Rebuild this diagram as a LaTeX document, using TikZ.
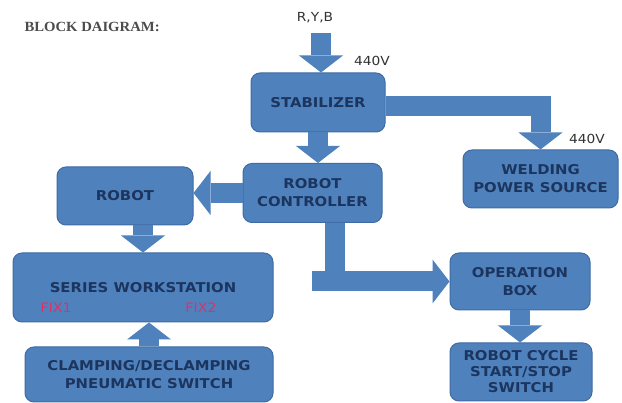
\documentclass[tikz,border=0pt]{standalone}
\usepackage{fontspec}
\setmainfont{Liberation Serif}
\setsansfont{DejaVu Sans}[FakeStretch=1.1]
\newfontfamily\titlefont{Liberation Serif}[FakeStretch=1.05]
\usetikzlibrary{arrows.meta}

\definecolor{boxblue}{HTML}{4F81BD}
\definecolor{boxedge}{HTML}{3F6CA4}
\definecolor{labelnavy}{HTML}{1C355E}
\definecolor{fixred}{HTML}{D9336B}

\tikzset{
  block/.style={draw=boxedge,line width=1pt,fill=boxblue,rounded corners=9pt,inner sep=0pt,
    align=center,text=labelnavy,font=\sffamily\bfseries\fontsize{13.5}{18}\selectfont},
  flow/.style={boxblue,line width=20pt,-{Triangle[width=44pt,length=17pt,line width=0pt]}},
  volt/.style={text=black!80,font=\sffamily\fontsize{12.5}{14}\selectfont},
  fix/.style={text=fixred,font=\sffamily\fontsize{13}{14}\selectfont}
}

\begin{document}
\begin{tikzpicture}[x=1pt,y=-1pt]
\fill[white] (0,0) rectangle (622,403);
\useasboundingbox (0,0) rectangle (622,403);

\node[anchor=west,text=black!70,font=\titlefont\bfseries\fontsize{14}{16}\selectfont] (title) at (21,27) {BLOCK DAIGRAM:};

\node[block,minimum width=134pt,minimum height=59pt] (stab) at (318,102.5) {STABILIZER};
\node[block,minimum width=139pt,minimum height=59pt] (ctrl) at (312.5,193) {ROBOT\\CONTROLLER};
\node[block,minimum width=136pt,minimum height=58pt] (robot) at (125,196) {ROBOT};
\node[block,minimum width=155pt,minimum height=58pt] (weld) at (540.5,179) {WELDING\\POWER SOURCE};
\node[block,minimum width=260pt,minimum height=69pt] (series) at (143,287.5) {SERIES WORKSTATION};
\node[block,minimum width=248pt,minimum height=55pt] (clamp) at (149,374.5) {CLAMPING/DECLAMPING\\PNEUMATIC SWITCH};
\node[block,minimum width=140pt,minimum height=57pt] (opbox) at (520,281.5) {OPERATION\\BOX};
\node[block,minimum width=142pt,minimum height=58pt,font=\sffamily\bfseries\fontsize{13.5}{16}\selectfont] (cycle) at (521,372) {ROBOT CYCLE\\START/STOP\\SWITCH};

\node[fix] (fixa) at (56,308) {FIX1};
\node[fix] (fixb) at (201,308) {FIX2};

\node[volt] (ryb) at (315,18) {R,Y,B};
\node[volt] (vin) at (372,61) {440V};
\node[volt] (vweld) at (587,139) {440V};
\coordinate (feed) at (321,33);

\draw[flow] (feed) -- (feed |- stab.north);
\draw[flow] (stab.south) -- (stab.south |- ctrl.north);
\draw[flow] ([yshift=-4pt]stab.east) -| (weld.north);
\draw[flow] (ctrl.west) -- (ctrl.west -| robot.east);
\draw[flow] (robot.south -| series.north) -- (series.north);
\draw[flow] (clamp.north) -- (clamp.north |- series.south);
\draw[flow] ([xshift=22pt]ctrl.south) |- (opbox.west);
\draw[boxblue,line width=20pt] ([xshift=22pt]ctrl.south |- opbox.west) -- ([xshift=-1pt]ctrl.south |- opbox.west);
\draw[flow] (opbox.south) -- (opbox.south |- cycle.north);
\end{tikzpicture}
\end{document}
